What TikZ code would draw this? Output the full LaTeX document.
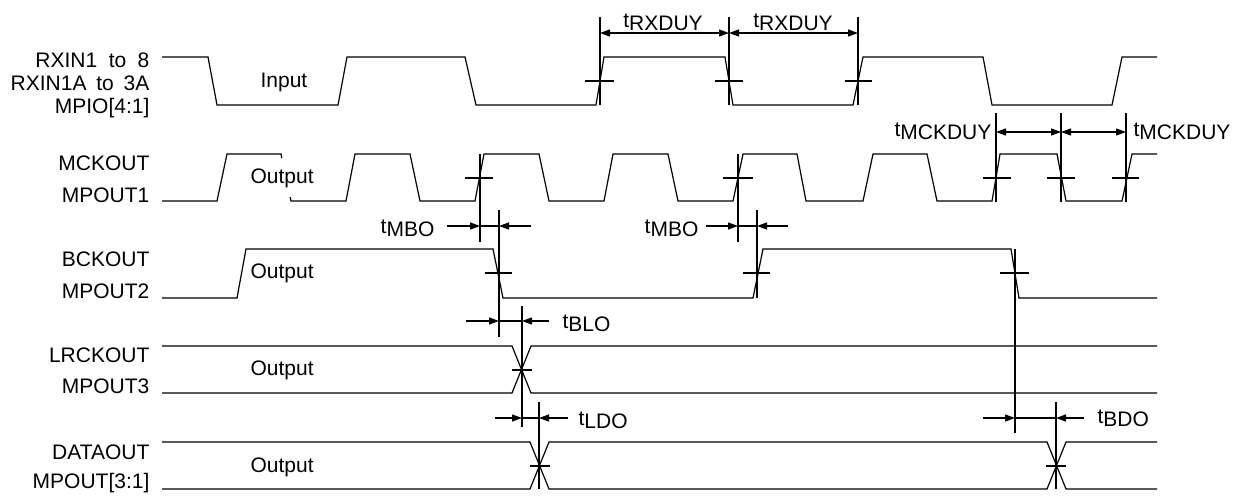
\documentclass[tikz,border=0pt]{standalone}
\usepackage{fontspec}
\setmainfont{Liberation Sans}
\usetikzlibrary{positioning,arrows.meta}
\newcommand{\tdly}[1]{t\raisebox{-1.5pt}{#1}}

\begin{document}
\begin{tikzpicture}[x=0.5pt, y=-0.5pt, line width=0.6pt,
		sig/.style={anchor=base east, inner sep=0pt, font=\fontsize{10.5}{12}\selectfont},
		txt/.style={anchor=base west, inner sep=0pt, font=\fontsize{10.5}{12}\selectfont},
		tlbl/.style={inner sep=0pt, font=\fontsize{10.5}{12}\selectfont},
		dim/.style={{Triangle[length=5pt,width=3.5pt]}-{Triangle[length=5pt,width=3.5pt]}},
		tip/.style={-{Triangle[length=5pt,width=3.5pt]}}]
		\useasboundingbox (0,0) rectangle (1240,498);

		% Place nodes
		\node [sig] (rx1) at (150,67) {RXIN1\hspace{2.8pt} to\hspace{2.8pt} 8};
		\node [below=11.5pt of rx1.base east, sig] (rx2) {RXIN1A\hspace{2pt} to\hspace{2pt} 3A};
		\node [below=11.5pt of rx2.base east, sig] (rx3) {MPIO[4:1]};
		\node [sig] (mck1) at (150,170) {MCKOUT};
		\node [below=16pt of mck1.base east, sig] (mck2) {MPOUT1};
		\node [sig] (bck1) at (150,266) {BCKOUT};
		\node [below=16pt of bck1.base east, sig] (bck2) {MPOUT2};
		\node [sig] (lr1) at (150,362) {LRCKOUT};
		\node [below=15.5pt of lr1.base east, sig] (lr2) {MPOUT3};
		\node [sig] (dat1) at (150,459) {DATAOUT};
		\node [below=14.5pt of dat1.base east, sig] (dat2) {MPOUT[3:1]};

		% Waveforms
		\draw (162,57) -- (208,57) -- (217,105) -- (338,105) -- (347,57) -- (465,57) -- (476,105) -- (596,105) -- (604,57) -- (725,57) -- (733,105) -- (853,105) -- (863,57) -- (983,57) -- (992,105) -- (1112,105) -- (1122,57) -- (1157,57);
		\draw (162,201) -- (217,201) -- (227,154) -- (281,154) -- (291,201) -- (346,201) -- (355,154) -- (410,154) -- (420,201) -- (475,201) -- (484,154) -- (539,154) -- (549,201) -- (604,201) -- (613,154) -- (668,154) -- (678,201) -- (733,201) -- (743,154) -- (797,154) -- (806,201) -- (863,201) -- (873,154) -- (927,154) -- (937,201) -- (992,201) -- (1000,154) -- (1057,154) -- (1066,201) -- (1122,201) -- (1132,154) -- (1157,154);
		\draw (162,298) -- (237,298) -- (246,249) -- (493,249) -- (503,298) -- (753,298) -- (763,249) -- (1011,249) -- (1019,298) -- (1157,298);
		\draw (162,346) -- (512,346) -- (531,393) -- (1157,393);
		\draw (162,393) -- (512,393) -- (531,346) -- (1157,346);
		\draw (162,442) -- (530,442) -- (549,489) -- (1047,489) -- (1066,442) -- (1157,442);
		\draw (162,489) -- (530,489) -- (549,442) -- (1047,442) -- (1066,489) -- (1157,489);

		\node [txt] (in) at (260,87) {Input};
		\node [txt, fill=white, inner ysep=5pt] (out1) at (250,183) {Output};
		\node [txt] (out2) at (250,278) {Output};
		\node [txt] (out3) at (250,375) {Output};
		\node [txt] (out4) at (250,472) {Output};

		% Crossing marks
		\draw (585,81) -- (614,81);
		\draw (715,81) -- (743,81);
		\draw (845,81) -- (872,81);
		\draw (465,178) -- (493,178);
		\draw (723,178) -- (753,178);
		\draw (983,178) -- (1011,178);
		\draw (1047,178) -- (1075,178);
		\draw (1112,178) -- (1139,178);
		\draw (485,273) -- (512,273);
		\draw (743,273) -- (770,273);
		\draw (1000,273) -- (1029,273);
		\draw (512,370) -- (532,370);
		\draw (530,466) -- (550,466);
		\draw (1046,466) -- (1066,466);

		% Reference lines
		\draw (600,17) -- (600,105);
		\draw (729,17) -- (729,105);
		\draw (858,17) -- (858,105);
		\draw (480,154) -- (480,242);
		\draw (738,154) -- (738,242);
		\draw (996,113) -- (996,202);
		\draw (1061,113) -- (1061,202);
		\draw (1126,113) -- (1126,202);
		\draw (499,210) -- (499,337);
		\draw (757,210) -- (757,298);
		\draw (1015,249) -- (1015,433);
		\draw (522,306) -- (522,427);
		\draw (539,402) -- (539,489);
		\draw (1056,402) -- (1056,489);

		% Timing arrows
		\coordinate (rx1a) at (600,33);
		\coordinate (rx1b) at (729,33);
		\coordinate (rx1c) at (858,33);
		\draw [dim] (rx1a) -- (rx1b);
		\draw [dim] (rx1b) -- (rx1c);
		\node [tlbl, anchor=base] (trx1) at (663,27) {\tdly{RXDUY}};
		\node [tlbl, anchor=base] (trx2) at (793,27) {\tdly{RXDUY}};

		\coordinate (mk1a) at (996,132);
		\coordinate (mk1b) at (1061,132);
		\coordinate (mk1c) at (1126,132);
		\draw [dim] (mk1a) -- (mk1b);
		\draw [dim] (mk1b) -- (mk1c);
		\node [tlbl, anchor=base east] (tmk1) at (992,136) {\tdly{MCKDUY}};
		\node [tlbl, anchor=base west] (tmk2) at (1133,136) {\tdly{MCKDUY}};

		\coordinate (mb1a) at (447,226);
		\coordinate (mb1b) at (480,226);
		\coordinate (mb1c) at (499,226);
		\coordinate (mb1d) at (531,226);
		\draw [tip] (mb1a) -- (mb1b);
		\draw (mb1b) -- (mb1c);
		\draw [tip] (mb1d) -- (mb1c);
		\node [tlbl, anchor=base east] (tmb1) at (435,233) {\tdly{MBO}};

		\coordinate (mb2a) at (706,226);
		\coordinate (mb2b) at (738,226);
		\coordinate (mb2c) at (757,226);
		\coordinate (mb2d) at (788,226);
		\draw [tip] (mb2a) -- (mb2b);
		\draw (mb2b) -- (mb2c);
		\draw [tip] (mb2d) -- (mb2c);
		\node [tlbl, anchor=base east] (tmb2) at (699,233) {\tdly{MBO}};

		\coordinate (bl1a) at (466,321);
		\coordinate (bl1b) at (499,321);
		\coordinate (bl1c) at (522,321);
		\coordinate (bl1d) at (549,321);
		\draw [tip] (bl1a) -- (bl1b);
		\draw (bl1b) -- (bl1c);
		\draw [tip] (bl1d) -- (bl1c);
		\node [tlbl, anchor=base west] (tbl) at (562,328) {\tdly{BLO}};

		\coordinate (ld1a) at (495,418);
		\coordinate (ld1b) at (522,418);
		\coordinate (ld1c) at (539,418);
		\coordinate (ld1d) at (568,418);
		\draw [tip] (ld1a) -- (ld1b);
		\draw (ld1b) -- (ld1c);
		\draw [tip] (ld1d) -- (ld1c);
		\node [tlbl, anchor=base west] (tld) at (578,425) {\tdly{LDO}};

		\coordinate (bd1a) at (983,418);
		\coordinate (bd1b) at (1015,418);
		\coordinate (bd1c) at (1056,418);
		\coordinate (bd1d) at (1084,418);
		\draw [tip] (bd1a) -- (bd1b);
		\draw (bd1b) -- (bd1c);
		\draw [tip] (bd1d) -- (bd1c);
		\node [tlbl, anchor=base west] (tbd) at (1097,423) {\tdly{BDO}};
	\end{tikzpicture}
\end{document}
